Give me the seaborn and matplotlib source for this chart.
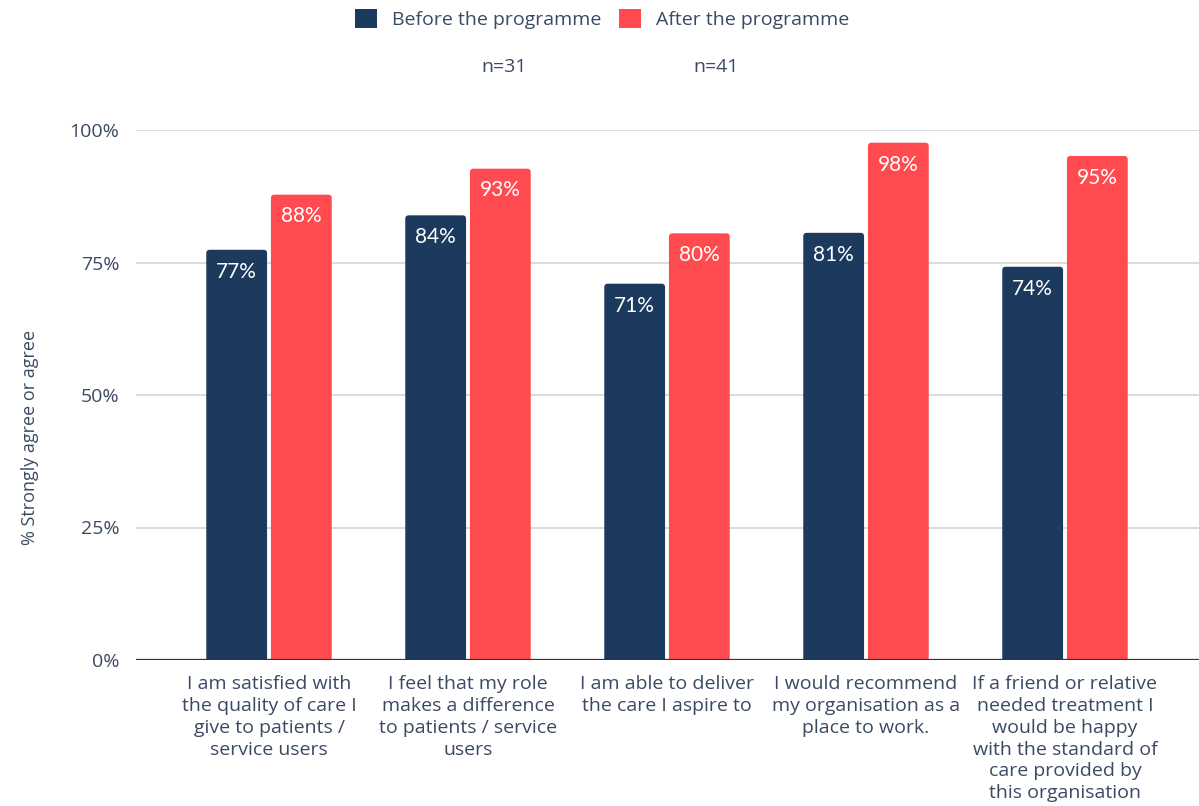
import matplotlib
matplotlib.use("Agg")
import matplotlib.pyplot as plt
from matplotlib.patches import FancyBboxPatch, Patch
import seaborn as sns
import pandas as pd

categories = [
    "I am satisfied with\nthe quality of care I\ngive to patients /\nservice users",
    "I feel that my role\nmakes a difference\nto patients / service\nusers",
    "I am able to deliver\nthe care I aspire to",
    "I would recommend\nmy organisation as a\nplace to work.",
    "If a friend or relative\nneeded treatment I\nwould be happy\nwith the standard of\ncare provided by\nthis organisation",
]
before = [77.4, 83.9, 71.0, 80.6, 74.2]
after = [87.8, 92.7, 80.5, 97.6, 95.1]
series_names = ["Before the programme", "After the programme"]
sample_sizes = ["n=31", "n=41"]
y_ticks = [0, 25, 50, 75, 100]
y_tick_labels = ["0%", "25%", "50%", "75%", "100%"]

NAVY = "#1C3A5E"
RED = "#FF4B4F"
TEXT = "#3B4A63"

sns.set_theme(style="white")
plt.rcParams["font.family"] = ["Open Sans", "DejaVu Sans"]

df = pd.DataFrame({
    "category": categories * 2,
    "value": before + after,
    "series": [series_names[0]] * len(categories) + [series_names[1]] * len(categories),
})

W, H = 1199, 806
fig = plt.figure(figsize=(W / 100, H / 100), dpi=100)
ax = fig.add_axes([136 / W, 1 - 660 / H, (W - 136) / W, 530 / H])

sns.barplot(data=df, x="category", y="value", hue="series",
            palette=[NAVY, RED], width=0.65, gap=0.06,
            saturation=1, ax=ax, errorbar=None, legend=False)

ax.set_ylim(0, 100)
ax.set_xlim((136 - 269) / 199, (W - 269) / 199)
ax.set_yticks(y_ticks)
ax.set_yticklabels(y_tick_labels)
ax.grid(axis="y", color="#D6D6D6", linewidth=1.2)
ax.set_axisbelow(True)
ax.axhline(0, color="#333333", linewidth=1.6, zorder=5)
for s in ax.spines.values():
    s.set_visible(False)
ax.tick_params(axis="y", length=0, pad=12, labelsize=14, labelcolor=TEXT)
ax.tick_params(axis="x", length=0, pad=11, labelsize=14, labelcolor=TEXT)
for lbl in ax.get_xticklabels():
    lbl.set_linespacing(1.27)
    lbl.set_verticalalignment("top")
ax.set_xlabel("")
ax.set_ylabel("")

# rounded-top bars + value labels
px_per_x = (W - 136) / (ax.get_xlim()[1] - ax.get_xlim()[0])
px_per_y = 530 / 100
radius_px = 3.5
for cont in ax.containers:
    for bar in cont:
        h = bar.get_height()
        x0 = bar.get_x()
        w = bar.get_width()
        fb = FancyBboxPatch((x0, -2), w, h + 2,
                            boxstyle=f"round,pad=0,rounding_size={radius_px / px_per_x}",
                            mutation_aspect=px_per_x / px_per_y,
                            facecolor=bar.get_facecolor(), edgecolor="none",
                            zorder=bar.get_zorder())
        ax.add_patch(fb)
        bar.set_visible(False)
        ax.annotate(f"{h:.0f}%", (x0 + w / 2, h),
                    xytext=(0, -8.5), textcoords="offset points",
                    ha="center", va="top", color="white", fontsize=15,
                    family=["Lato", "DejaVu Sans"], zorder=6)

# legend
handles = [Patch(facecolor=NAVY, edgecolor="none"), Patch(facecolor=RED, edgecolor="none")]
leg = fig.legend(handles, series_names, loc="center left",
                 bbox_to_anchor=(355 / W, 1 - 19 / H), ncol=2, frameon=False,
                 fontsize=14, handlelength=1.13, handleheight=1.13,
                 handletextpad=0.75, columnspacing=0.95,
                 borderpad=0, borderaxespad=0)
for t in leg.get_texts():
    t.set_color(TEXT)

fig.text(504 / W, 1 - 67 / H, sample_sizes[0], ha="center", va="center",
         fontsize=14, color=TEXT)
fig.text(716 / W, 1 - 67 / H, sample_sizes[1], ha="center", va="center",
         fontsize=14, color=TEXT)

fig.text(30 / W, 1 - 437 / H, "% Strongly agree or agree", rotation=90,
         ha="center", va="center", fontsize=13, color=TEXT)

fig.savefig("out.png", dpi=100, facecolor="white")
